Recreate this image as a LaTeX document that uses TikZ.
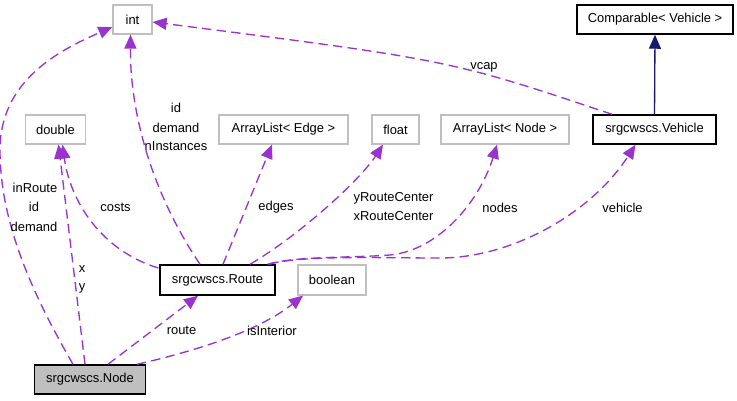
\documentclass[tikz,border=0pt]{standalone}
\usepackage{fontspec}
\setmainfont{Liberation Sans}
\usetikzlibrary{arrows.meta,calc}
\definecolor{edgepurple}{HTML}{9A32CD}
\definecolor{boxgrey}{HTML}{BFBFBF}
\definecolor{navyline}{HTML}{191970}
\begin{document}
\begin{tikzpicture}[x=0.75pt,y=-0.75pt,
  every node/.style={font=\fontsize{9.7}{11.6}\selectfont, inner sep=0pt},
  graybox/.style={draw=boxgrey, line width=0.9pt, minimum height=21.75pt, fill=white},
  blackbox/.style={draw=black, line width=1.1pt, minimum height=21.75pt, fill=white},
  focusbox/.style={draw=black, line width=1.1pt, minimum height=21.75pt, fill=boxgrey},
  useedge/.style={draw=edgepurple, line width=1pt, dash pattern=on 7pt off 4pt,
    -{Triangle[length=10.5pt,width=9pt,fill=edgepurple]}},
  inhedge/.style={draw=navyline, line width=1pt,
    -{Triangle[length=10.5pt,width=9pt,fill=navyline]}},
  lbl/.style={align=center, text=black}]
\useasboundingbox (0,0) rectangle (737,400);

% nodes
\node[graybox, minimum width=29.25pt] (int) at (132.5,19.5) {int};
\node[blackbox, minimum width=117pt] (cmp) at (655,19.5) {Comparable< Vehicle >};
\node[graybox, minimum width=45pt] (dbl) at (55.5,129.5) {double};
\node[graybox, minimum width=96.75pt] (ale) at (283.5,129.5) {ArrayList< Edge >};
\node[graybox, minimum width=35.25pt] (flt) at (395.5,129.5) {float};
\node[graybox, minimum width=96pt] (aln) at (505,129.5) {ArrayList< Node >};
\node[blackbox, minimum width=92.25pt] (veh) at (654.5,129.5) {srgcwscs.Vehicle};
\node[blackbox, minimum width=86.25pt, minimum height=22.5pt] (rt) at (217.5,280) {srgcwscs.Route};
\node[graybox, minimum width=51pt, minimum height=22.5pt] (bool) at (332,280) {boolean};
\node[focusbox, minimum width=83.25pt] (nd) at (90,379.5) {srgcwscs.Node};

% connectors
\draw[useedge] ($(nd.north)+(-17,0)$) .. controls (30,290) and (0,220) .. (0,150)
  .. controls (0,80) and (60,50) .. ($(int.west)+(0,7.5)$);
\draw[useedge] ($(nd.north)+(-5,0)$) -- ($(dbl.south)+(3,0)$);
\draw[useedge] ($(rt.west)+(-1,-12)$) .. controls (100,250) and (70,200) .. ($(dbl.south)+(7,0)$);
\draw[useedge] ($(rt.north)+(-17.5,0)$) .. controls (150,190) and (130,110) .. ($(int.south)+(-2,0)$);
\draw[useedge] ($(rt.north)+(5.5,0)$) -- ($(ale.south)+(-11.5,0)$);
\draw[useedge] ($(rt.north)+(32.5,0)$) .. controls (300,235) and (360,180) .. ($(flt.south)+(-12.5,0)$);
\draw[useedge] ($(rt.north)+(50,0)$) .. controls (295,256) and (350,258) .. (390,255)
  .. controls (440,250) and (480,200) .. ($(aln.south)+(-8,0)$);
\draw[useedge] ($(rt.north)+(52,0)$) .. controls (300,255) and (380,258) .. (440,258)
  .. controls (510,258) and (590,215) .. ($(veh.south)+(-19,0)$);
\draw[useedge] ($(veh.north)+(-42.5,0)$) .. controls (450,60) .. ($(int.east)+(0,2.5)$);
\draw[inhedge] (veh.north) -- (cmp.south);
\draw[useedge] ($(nd.north)+(18,0)$) -- ($(rt.south)+(-19.5,0)$);
\draw[useedge] ($(nd.north)+(47,0)$) .. controls (200,350) and (260,330) .. ($(bool.south)+(-29,0)$);

% labels
\node[lbl] (l1a) at (35,188) {inRoute};
\node[lbl] (l1b) at (34,207) {id};
\node[lbl] (l1c) at (34,226.5) {demand};
\node[lbl] (l2a) at (82,269) {x};
\node[lbl] (l2b) at (82,288) {y};
\node[lbl] (l3) at (115.5,207.5) {costs};
\node[lbl] (l4a) at (176,108) {id};
\node[lbl] (l4b) at (176,127.5) {demand};
\node[lbl] (l4c) at (176,146.5) {nInstances};
\node[lbl] (l5) at (276,207.5) {edges};
\node[lbl] (l6a) at (393.5,198) {yRouteCenter};
\node[lbl] (l6b) at (393.5,216.5) {xRouteCenter};
\node[lbl] (l7) at (500,207.5) {nodes};
\node[lbl] (l8) at (622.5,207.5) {vehicle};
\node[lbl] (l9) at (484,67) {vcap};
\node[lbl] (l10) at (181.5,330.5) {route};
\node[lbl] (l11) at (272,330.5) {isInterior};
\end{tikzpicture}
\end{document}
